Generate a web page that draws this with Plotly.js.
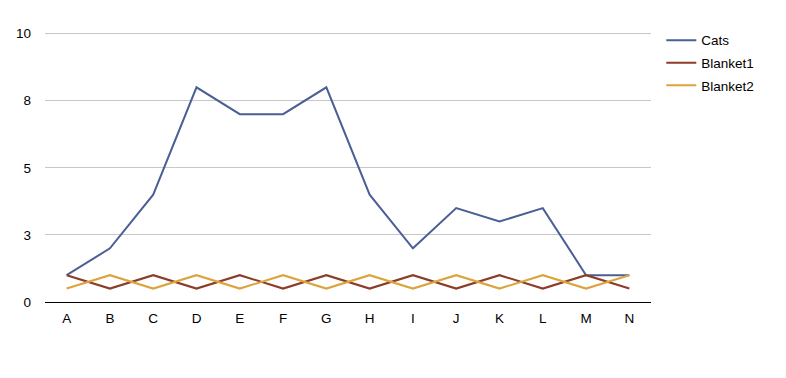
<!DOCTYPE html>
<html><head><meta charset="utf-8">
<script src="https://cdn.plot.ly/plotly-3.0.1.min.js"></script>
<style>html,body{margin:0;padding:0;background:#fff}#c{width:786px;height:378px}</style>
</head><body><div id="c"></div>
<script>
const categories = ['A','B','C','D','E','F','G','H','I','J','K','L','M','N'];
const cats = [1,2,4,8,7,7,8,4,2,3.5,3,3.5,1,1];
const blanket1 = [1,0.5,1,0.5,1,0.5,1,0.5,1,0.5,1,0.5,1,0.5];
const blanket2 = [0.5,1,0.5,1,0.5,1,0.5,1,0.5,1,0.5,1,0.5,1];
const yTickVals = [0,2.5,5,7.5,10];
const yTickText = ['0','3','5','8','10'];

const mk = (name, y, color, g) => ({
  x: categories, y: y, name: name, type: 'scatter', mode: 'lines',
  legendgroup: g, line: {color: color, width: 2}
});
const data = [
  mk('Cats', cats, '#4a5f96', 'g1'),
  mk('Blanket1', blanket1, '#8c3c28', 'g2'),
  mk('Blanket2', blanket2, '#dba43c', 'g3')
];
const layout = {
  width: 786, height: 378,
  margin: {l: 45, r: 135, t: 31, b: 76},
  paper_bgcolor: '#fff', plot_bgcolor: '#fff',
  font: {family: '"Liberation Sans", Arial, sans-serif', size: 13.5, color: '#000'},
  showlegend: true,
  legend: {x: 1.017, xanchor: 'left', y: 1.0225, yanchor: 'top', tracegroupgap: 2,
           font: {size: 13.5}, bgcolor: 'rgba(0,0,0,0)'},
  xaxis: {type: 'category', range: [-0.5, 13.5], showgrid: false, zeroline: false,
          showline: true, linecolor: '#000', linewidth: 1, ticks: '', ticklen: 0,
          ticklabelstandoff: 4, tickfont: {size: 13.5}, fixedrange: true},
  yaxis: {range: [0, 10.1], tickvals: yTickVals, ticktext: yTickText,
          showgrid: true, gridcolor: '#c8c8c8', gridwidth: 1, zeroline: false,
          showline: false, ticks: '', ticklabelstandoff: 13, tickfont: {size: 13.5}, fixedrange: true}
};
Plotly.newPlot('c', data, layout, {displayModeBar: false, staticPlot: true});
</script></body></html>
